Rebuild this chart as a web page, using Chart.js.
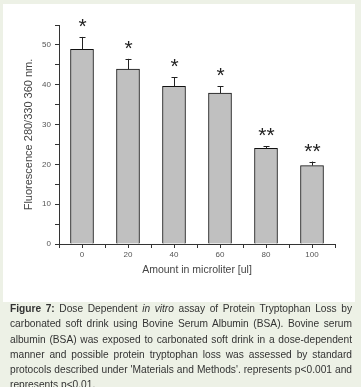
<!DOCTYPE html>
<html>
<head>
<meta charset="utf-8">
<script src="https://cdn.jsdelivr.net/npm/chart.js@4/dist/chart.umd.min.js"></script>
<style>
    html, body { margin: 0; padding: 0; }
    body { width: 361px; height: 387px; background: #edf1e6; position: relative; overflow: hidden; font-family: "Liberation Sans", Arial, sans-serif; }
    .panel { position: absolute; left: 3px; top: 4px; width: 352px; height: 298px; background: #fff; }
    .caption { position: absolute; left: 10px; top: 301px; width: 342px; font-size: 10.2px; line-height: 15.3px; color: #333; text-align: justify; }
</style>
</head>
<body>
<div class="panel"><canvas id="chart" width="352" height="298"></canvas></div>
<div class="caption"><b>Figure 7:</b> Dose Dependent <i>in vitro</i> assay of Protein Tryptophan Loss by carbonated soft drink using Bovine Serum Albumin (BSA). Bovine serum albumin (BSA) was exposed to carbonated soft drink in a dose-dependent manner and possible protein tryptophan loss was assessed by standard protocols described under 'Materials and Methods'. represents p&lt;0.001 and represents p&lt;0.01.</div>
<script>
const amounts = [0, 20, 40, 60, 80, 100];
const fluorescence = [48.9, 43.9, 39.6, 37.9, 24.0, 19.7];
const errors = [3.1, 2.6, 2.3, 1.7, 0.5, 1.0];
const marks = ['*', '*', '*', '*', '**', '**'];

const errorBars = {
    id: 'errorBars',
    afterDatasetsDraw(chart) {
        const ctx = chart.ctx;
        const x = chart.scales.x, y = chart.scales.y;
        ctx.save();
        ctx.strokeStyle = '#222';
        ctx.lineWidth = 1;
        ctx.fillStyle = '#222';
        ctx.font = '21px "Liberation Sans", Arial, sans-serif';
        ctx.textAlign = 'center';
        ctx.textBaseline = 'alphabetic';
        amounts.forEach((a, i) => {
            const px = Math.round(x.getPixelForValue(a)) + 0.5;
            const top = y.getPixelForValue(fluorescence[i] + errors[i]);
            const base = y.getPixelForValue(fluorescence[i]);
            ctx.beginPath();
            ctx.moveTo(px, base);
            ctx.lineTo(px, top);
            ctx.moveTo(px - 3, Math.round(top) + 0.5);
            ctx.lineTo(px + 3, Math.round(top) + 0.5);
            ctx.stroke();
            ctx.fillText(marks[i], px, top - 4);
        });
        ctx.restore();
    }
};

const tickFont = { family: '"Liberation Sans", Arial, sans-serif', size: 8 };

new Chart(document.getElementById('chart'), {
    type: 'bar',
    data: {
        datasets: [{
            data: amounts.map((a, i) => ({ x: a, y: fluorescence[i] })),
            backgroundColor: '#c0c0c0',
            borderColor: '#111',
            borderWidth: 1,
            barPercentage: 1,
            categoryPercentage: 1
        }]
    },
    options: {
        responsive: false,
        animation: false,
        layout: { padding: { left: 0, right: 20, top: 21, bottom: 0 } },
        plugins: { legend: { display: false }, tooltip: { enabled: false } },
        scales: {
            x: {
                type: 'linear',
                min: -10,
                max: 110,
                offset: false,
                afterFit: (s) => { s.height = 58; },
                grid: { offset: false, drawOnChartArea: false, tickLength: 4, color: '#333' },
                border: { color: '#333', width: 1 },
                ticks: {
                    stepSize: 10,
                    padding: 2,
                    color: '#555',
                    font: tickFont,
                    callback: (v) => (v >= 0 && v <= 100 && v % 20 === 0) ? String(v) : ''
                },
                title: {
                    display: true,
                    text: 'Amount in microliter [ul]',
                    color: '#444',
                    font: { family: '"Liberation Sans", Arial, sans-serif', size: 10.5 },
                    padding: { top: 0, bottom: 26 }
                }
            },
            y: {
                min: 0,
                max: 55,
                afterFit: (s) => { s.width = 56; },
                grid: { drawOnChartArea: false, tickLength: 4, color: '#333' },
                border: { color: '#333', width: 1 },
                ticks: {
                    stepSize: 5,
                    padding: 4,
                    color: '#555',
                    font: tickFont,
                    callback: (v) => v % 10 === 0 ? String(v) : ''
                },
                title: {
                    display: true,
                    text: 'Fluorescence 280/330 360 nm.',
                    color: '#444',
                    font: { family: '"Liberation Sans", Arial, sans-serif', size: 11 },
                    padding: { top: 19, bottom: 0 }
                }
            }
        }
    },
    plugins: [errorBars]
});
</script>
</body>
</html>
